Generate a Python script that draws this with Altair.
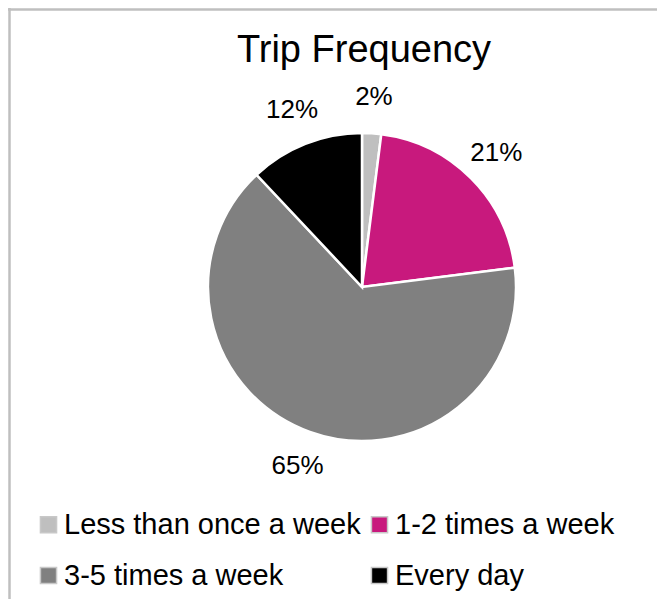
import altair as alt
import pandas as pd

categories = ["Less than once a week", "1-2 times a week", "3-5 times a week", "Every day"]
values = [2, 21, 65, 12]
labels = ["2%", "21%", "65%", "12%"]
colors = ["#BFBFBF", "#C8197D", "#808080", "#000000"]
title_text = "Trip Frequency"

df = pd.DataFrame({
    "category": categories,
    "value": values,
    "label": labels,
    "order": list(range(len(categories))),
})

FONT = "Liberation Sans"

base = alt.Chart(df).encode(
    theta=alt.Theta("value:Q", stack=True),
    order=alt.Order("order:Q"),
)

pie = base.mark_arc(outerRadius=154, stroke="white", strokeWidth=2.5).encode(
    color=alt.Color(
        "category:N",
        sort=categories,
        scale=alt.Scale(domain=categories, range=colors),
        legend=alt.Legend(
            title=None,
            orient="none",
            direction="horizontal",
            legendX=-174,
            legendY=377,
            columns=2,
            symbolType="square",
            symbolSize=260,
            symbolStrokeColor="#C8C8C8",
            symbolStrokeWidth=1.5,
            labelFont=FONT,
            labelFontSize=29,
            labelColor="#000000",
            labelOffset=1,
            labelLimit=400,
            columnPadding=4,
            rowPadding=21,
            padding=0,
        ),
    )
)

text = base.mark_text(radius=190, fontSize=26, font=FONT, color="#000000").encode(
    text="label:N"
)

one = alt.Data(values=[{"t": title_text}])
title = alt.Chart(one).mark_text(
    font=FONT, fontSize=38, color="#000000", align="center", baseline="alphabetic"
).encode(text="t:N", x=alt.value(156), y=alt.value(-71))

border_top = alt.Chart(one).mark_rule(color="#BFBFBF", strokeWidth=2.5).encode(
    x=alt.value(-200), x2=alt.value(449), y=alt.value(-123.5)
)
border_left = alt.Chart(one).mark_rule(color="#BFBFBF", strokeWidth=2.5).encode(
    x=alt.value(-198.5), y=alt.value(-125), y2=alt.value(466)
)

chart = alt.layer(border_top, border_left, pie, text, title).properties(
    width=308,
    height=308,
    background="white",
    padding={"left": 200, "top": 125, "right": 141, "bottom": 158},
    autosize=alt.AutoSizeParams(type="none"),
).configure_view(stroke="transparent", strokeWidth=0)

chart.save("out.html", embed_options={"renderer": "svg", "actions": False})
